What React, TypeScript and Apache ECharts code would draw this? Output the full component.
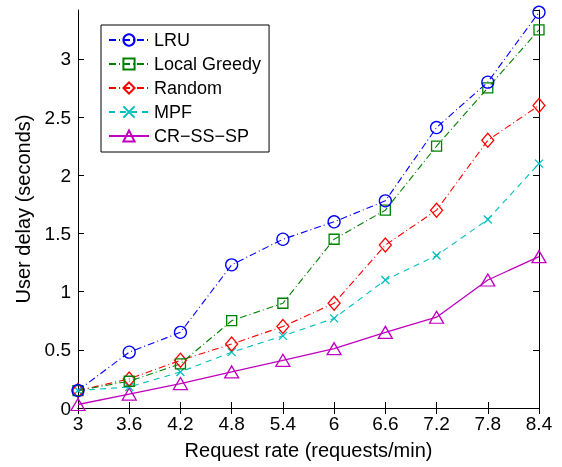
import React, { useEffect, useRef } from "react";
import * as echarts from "echarts";

const categories = ["3", "3.6", "4.2", "4.8", "5.4", "6", "6.6", "7.2", "7.8", "8.4"];
const lru = [0.15, 0.48, 0.65, 1.23, 1.45, 1.6, 1.78, 2.41, 2.8, 3.4];
const localGreedy = [0.15, 0.23, 0.38, 0.75, 0.9, 1.45, 1.7, 2.25, 2.75, 3.25];
const randomS = [0.15, 0.25, 0.41, 0.55, 0.7, 0.9, 1.4, 1.7, 2.3, 2.6];
const mpf = [0.15, 0.18, 0.31, 0.48, 0.62, 0.77, 1.1, 1.31, 1.62, 2.1];
const crss = [0.03, 0.12, 0.21, 0.31, 0.41, 0.51, 0.65, 0.78, 1.1, 1.3];

const FONT = "'Liberation Sans', Arial, sans-serif";

export default function App() {
  const ref = useRef<HTMLDivElement>(null);
  useEffect(() => {
    if (!ref.current) return;
    const chart = echarts.init(ref.current, undefined, { renderer: "svg" });
    const mk = (
      name: string,
      data: number[],
      color: string,
      dash: any,
      symbol: string,
      symbolSize: any,
      width = 1.1
    ) => ({
      name,
      type: "line",
      data,
      symbol,
      symbolSize,
      symbolKeepAspect: false,
      showAllSymbol: true,
      lineStyle: { color, width, type: dash },
      itemStyle: { color: "transparent", borderColor: color, borderWidth: 1.3 },
      emphasis: { disabled: true },
    });
    chart.setOption({
      animation: false,
      textStyle: { fontFamily: FONT },
      grid: { left: 78, right: 23, top: 10, bottom: 59, containLabel: false },
      legend: {
        orient: "vertical",
        left: 101,
        top: 25,
        itemWidth: 40,
        itemHeight: 14,
        itemGap: 6,
        padding: [6, 8, 7, 7],
        borderColor: "#000",
        borderWidth: 1,
        backgroundColor: "#fff",
        textStyle: { fontSize: 18, color: "#000", fontFamily: FONT },
        data: ["LRU", "Local Greedy", "Random", "MPF", "CR\u2212SS\u2212SP"],
      },
      xAxis: [
        {
          type: "category",
          data: categories,
          boundaryGap: false,
          position: "bottom",
          name: "Request rate (requests/min)",
          nameLocation: "middle",
          nameGap: 32,
          nameTextStyle: { fontSize: 20, color: "#000", fontFamily: FONT },
          axisLine: { lineStyle: { color: "#000", width: 1 } },
          axisTick: { inside: true, length: 6, lineStyle: { color: "#000" } },
          axisLabel: { fontSize: 19, color: "#000", margin: 6, fontFamily: FONT },
          splitLine: { show: false },
        },
        {
          type: "category",
          data: categories,
          boundaryGap: false,
          position: "top",
          axisLine: { lineStyle: { color: "#000", width: 1 } },
          axisTick: { inside: true, length: 6, lineStyle: { color: "#000" } },
          axisLabel: { show: false },
          splitLine: { show: false },
        },
      ],
      yAxis: [
        {
          type: "value",
          min: 0,
          max: 3.42,
          interval: 0.5,
          position: "left",
          name: "User delay (seconds)",
          nameLocation: "middle",
          nameGap: 45,
          nameTextStyle: { fontSize: 20, color: "#000", fontFamily: FONT },
          axisLine: { show: true, lineStyle: { color: "#000", width: 1 } },
          axisTick: { show: true, inside: true, length: 6, lineStyle: { color: "#000" } },
          axisLabel: { fontSize: 19, color: "#000", margin: 7, showMaxLabel: false, fontFamily: FONT },
          splitLine: { show: false },
        },
        {
          type: "value",
          min: 0,
          max: 3.42,
          interval: 0.5,
          position: "right",
          axisLine: { show: true, lineStyle: { color: "#000", width: 1 } },
          axisTick: { show: true, inside: true, length: 6, lineStyle: { color: "#000" } },
          axisLabel: { show: false },
          splitLine: { show: false },
        },
      ],
      series: [
        mk("CR\u2212SS\u2212SP", crss, "#bf00bf", "solid", "triangle", [14, 12], 1.3),
        mk("MPF", mpf, "#00bfbf", [6, 5], "path://M0,0L10,10M10,0L0,10", 8),
        mk("Random", randomS, "#ff0000", [7, 3, 1, 3], "diamond", [12, 14]),
        mk("Local Greedy", localGreedy, "#008000", [7, 3, 1, 3], "rect", 10),
        mk("LRU", lru, "#0000ff", [7, 3, 1, 3], "circle", 12),
      ],
    });
    return () => chart.dispose();
  }, []);
  return (
    <div
      ref={ref}
      style={{ position: "fixed", left: 0, top: 0, width: 562, height: 467 }}
    />
  );
}
